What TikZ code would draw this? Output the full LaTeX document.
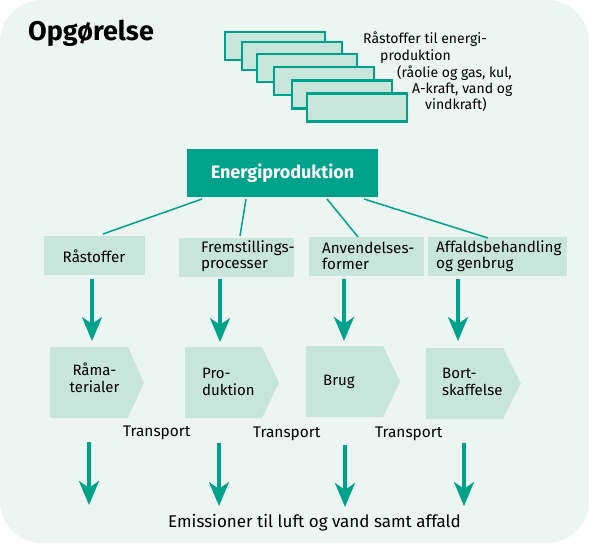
\documentclass[tikz,border=0pt]{standalone}
\usepackage{fontspec}
\setmainfont{Fira Sans}
\usetikzlibrary{arrows.meta}
\definecolor{teal1}{RGB}{0,163,138}
\definecolor{lightbox}{RGB}{200,229,220}
\definecolor{bgc}{RGB}{237,245,242}
\begin{document}
\begin{tikzpicture}[x=1pt,y=-1pt,
  txt/.style={inner sep=0pt, font=\fontsize{14}{17}\selectfont, text=black},
  cattxt/.style={txt, font=\fontsize{15.2}{16.5}\selectfont},
  penttxt/.style={txt, font=\fontsize{15}{17.5}\selectfont},
  stackbox/.style={draw=teal1, line width=2.5pt, fill=lightbox, minimum width=100pt, minimum height=28pt, inner sep=0pt},
  catbox/.style={fill=lightbox, inner sep=0pt},
  pent/.style={fill=lightbox},
  thinline/.style={draw=teal1, line width=1.5pt},
  bigarrow/.style={draw=teal1, line width=3.5pt, -{Stealth[length=24pt,width=20pt,inset=7pt]}, fill=teal1},
]
\useasboundingbox (0,0) rectangle (589,546);
\fill[bgc,rounded corners=42pt] (0,0) rectangle (589,543);

% title
\node[txt, anchor=base west, font=\fontsize{27}{30}\selectfont\bfseries] (title) at (28,40) {Opgørelse};

% stacked rectangles
\node[stackbox] (s1) at (275,46) {};
\node[stackbox] (s2) at (292,56) {};
\node[stackbox] (s3) at (307,68) {};
\node[stackbox] (s4) at (324,81) {};
\node[stackbox] (s5) at (342,94.5) {};
\node[stackbox] (s6) at (357,107.5) {};

\node[txt, anchor=base west] (r1) at (363,43) {Råstoffer til energi-};
\node[txt, anchor=base west] (r2) at (380,60) {produktion};
\node[txt, anchor=base west] (r3) at (397,77) {(råolie og gas, kul,};
\node[txt, anchor=base west] (r4) at (412,93) {A-kraft, vand og};
\node[txt, anchor=base west] (r5) at (425,109) {vindkraft)};

% Energiproduktion
\node[fill=teal1, minimum width=191pt, minimum height=48pt, inner sep=0pt,
      text=white, font=\fontsize{18}{20}\selectfont\bfseries] (e) at (282.5,173) {Energiproduktion};

% category boxes
\node[catbox, minimum width=101pt, minimum height=39pt] (c1) at (94.5,255.5) {};
\node[catbox, minimum width=115pt, minimum height=39pt] (c2) at (236.5,257.5) {};
\node[catbox, minimum width=115pt, minimum height=39pt] (c3) at (366.5,256.5) {};
\node[catbox, minimum width=139pt, minimum height=39pt] (c4) at (497.5,256.5) {};

\node[cattxt, anchor=center] (c1t) at (94,256) {Råstoffer};
\node[cattxt, anchor=west, align=left] (c2t) at (201,256) {Fremstillings-\\processer};
\node[cattxt, anchor=west, align=left] (c3t) at (322,256) {Anvendelses-\\former};
\node[cattxt, anchor=west, align=left] (c4t) at (436,256) {Affaldsbehandling\\og genbrug};

% lines from Energiproduktion
\coordinate (l1a) at (202,199); \coordinate (l1b) at (103,234);
\coordinate (l2a) at (246,199); \coordinate (l2b) at (240,236);
\coordinate (l3a) at (327,199); \coordinate (l3b) at (358,237);
\coordinate (l4a) at (364,199); \coordinate (l4b) at (488,238);
\draw[thinline] (l1a) -- (l1b);
\draw[thinline] (l2a) -- (l2b);
\draw[thinline] (l3a) -- (l3b);
\draw[thinline] (l4a) -- (l4b);

% pentagons
\fill[pent] (50,347) -- (128,347) -- (144,382.5) -- (128,418) -- (50,418) -- cycle;
\fill[pent] (185,347) -- (262,347) -- (279,382.5) -- (262,418) -- (185,418) -- cycle;
\fill[pent] (306,346) -- (383,346) -- (400,381.5) -- (383,417) -- (306,417) -- cycle;
\fill[pent] (426,348) -- (503,348) -- (521,383.5) -- (503,419) -- (426,419) -- cycle;
\node[inner sep=0pt, minimum width=78pt, minimum height=71pt] (p1) at (89,382.5) {};
\node[inner sep=0pt, minimum width=77pt, minimum height=71pt] (p2) at (223.5,382.5) {};
\node[inner sep=0pt, minimum width=77pt, minimum height=71pt] (p3) at (344.5,381.5) {};
\node[inner sep=0pt, minimum width=77pt, minimum height=71pt] (p4) at (464.5,383.5) {};

\node[penttxt, anchor=center, align=center] (p1t) at (94.5,378) {Råma-\\terialer};
\node[penttxt, anchor=west, align=left] (p2t) at (202,382) {Pro-\\duktion};
\node[penttxt, anchor=base west] (p3t) at (323,385) {Brug};
\node[penttxt, anchor=west, align=left] (p4t) at (442,382) {Bort-\\skaffelse};

% top arrows
\coordinate (a1s) at (92,279);  \coordinate (a1e) at (92,341);
\coordinate (a2s) at (220,279); \coordinate (a2e) at (220,342);
\coordinate (a3s) at (344,279); \coordinate (a3e) at (344,341);
\coordinate (a4s) at (458,279); \coordinate (a4e) at (458,341);
\draw[bigarrow] (a1s) -- (a1e);
\draw[bigarrow] (a2s) -- (a2e);
\draw[bigarrow] (a3s) -- (a3e);
\draw[bigarrow] (a4s) -- (a4e);

% Transport labels
\node[txt, anchor=base west, font=\fontsize{15.4}{17}\selectfont] (t1) at (123,436) {Transport};
\node[txt, anchor=base west, font=\fontsize{15.4}{17}\selectfont] (t2) at (253,437) {Transport};
\node[txt, anchor=base west, font=\fontsize{15.4}{17}\selectfont] (t3) at (375,437) {Transport};

% bottom arrows
\coordinate (b1s) at (89,442);  \coordinate (b1e) at (89,505);
\coordinate (b2s) at (219,443); \coordinate (b2e) at (219,506);
\coordinate (b3s) at (345,445); \coordinate (b3e) at (345,507);
\coordinate (b4s) at (464,443); \coordinate (b4e) at (464,506);
\draw[bigarrow] (b1s) -- (b1e);
\draw[bigarrow] (b2s) -- (b2e);
\draw[bigarrow] (b3s) -- (b3e);
\draw[bigarrow] (b4s) -- (b4e);

\node[txt, anchor=base west, font=\fontsize{17}{19}\selectfont] (em) at (168,527) {Emissioner til luft og vand samt affald};
\end{tikzpicture}
\end{document}
